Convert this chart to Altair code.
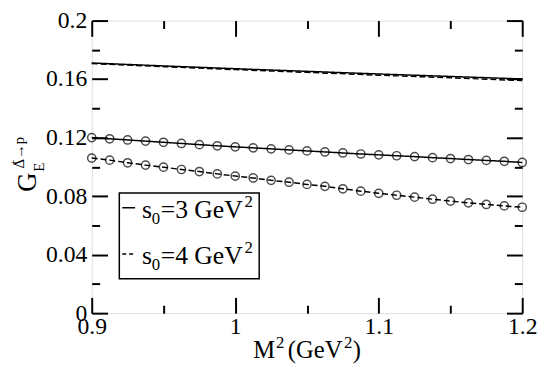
import altair as alt
import pandas as pd

# ---- data ----
m2_circ = [0.9, 0.9125, 0.925, 0.9375, 0.95, 0.9625, 0.975, 0.9875, 1.0, 1.0125,
           1.025, 1.0375, 1.05, 1.0625, 1.075, 1.0875, 1.1, 1.1125, 1.125, 1.1375,
           1.15, 1.1625, 1.175, 1.1875, 1.2]
circ_s3 = [0.1200, 0.1192, 0.1184, 0.1176, 0.1168, 0.1160, 0.1152, 0.1144, 0.1137, 0.1130,
           0.1123, 0.1116, 0.1109, 0.1102, 0.1095, 0.1088, 0.1082, 0.1076, 0.1070, 0.1063,
           0.1057, 0.1050, 0.1044, 0.1038, 0.1030]
circ_s4 = [0.1060, 0.1046, 0.1028, 0.1012, 0.0998, 0.0982, 0.0968, 0.0952, 0.0937, 0.0924,
           0.0908, 0.0895, 0.0880, 0.0867, 0.0850, 0.0834, 0.0819, 0.0806, 0.0793, 0.0779,
           0.0766, 0.0754, 0.0743, 0.0733, 0.0724]
m2_line = [0.9, 0.95, 1.0, 1.05, 1.1, 1.15, 1.2]
line_s3 = [0.1710, 0.1690, 0.1671, 0.1653, 0.1635, 0.1618, 0.1601]
line_s4 = [0.1706, 0.1685, 0.1665, 0.1646, 0.1627, 0.1609, 0.1590]

x_major = [0.9, 1.0, 1.1, 1.2]
x_minor = [0.95, 1.05, 1.15]
y_major = [0.0, 0.04, 0.08, 0.12, 0.16, 0.2]
y_minor = [0.02, 0.06, 0.10, 0.14, 0.18]
legend1_parts = ["s", "0", "=3 GeV", "2"]
legend2_parts = ["s", "0", "=4 GeV", "2"]
xtitle_parts = ["M", "2", "(GeV", "2", ")"]
ytitle_parts = ["G", "E", "\u0394\u2192p", "+"]

FONT = "Liberation Serif"
TOP = 10           # page y of plot top = 8 + TOP
LEFT = 85          # page x of plot left = 8 + LEFT
PLOT_BOTTOM = 315  # page y of plot bottom

circ_df = pd.concat([
    pd.DataFrame({"m2": m2_circ, "g": circ_s3, "s": "3"}),
    pd.DataFrame({"m2": m2_circ, "g": circ_s4, "s": "4"}),
])
line_df = pd.concat([
    pd.DataFrame({"m2": m2_line, "g": line_s3, "s": "3"}),
    pd.DataFrame({"m2": m2_line, "g": line_s4, "s": "4"}),
])

xs = alt.Scale(domain=[0.9, 1.2], nice=False, zero=False)
ys = alt.Scale(domain=[0.0, 0.2], nice=False, zero=False)
dash = alt.StrokeDash("s:N", scale=alt.Scale(domain=["3", "4"], range=[[1, 0], [6, 3]]), legend=None)

def X(axis=None):
    return alt.X("m2:Q", scale=xs, axis=axis)

def Y(axis=None):
    return alt.Y("g:Q", scale=ys, axis=axis)

def tick_axis(orient, values, size, labels=False, **kw):
    return alt.Axis(orient=orient, values=values, tickSize=size, offset=-size, domain=False,
                    grid=False, labels=labels, title=None, tickColor="black", tickWidth=2,
                    labelFlush=False, **kw)

lines_top = alt.Chart(line_df).mark_line(color="black", strokeWidth=1.5).encode(
    x=X(), y=Y(), strokeDash=dash, detail="s:N")
lines_circ = alt.Chart(circ_df).mark_line(color="black", strokeWidth=1.5).encode(
    x=X(), y=Y(), strokeDash=dash, detail="s:N")
points = alt.Chart(circ_df).mark_point(shape="circle", filled=False, color="black",
                                       size=70, strokeWidth=1.5).encode(x=X(), y=Y(), detail="s:N")

axis_src = alt.Chart(circ_df).mark_point(opacity=0)
lab = dict(labelFont=FONT, labelFontSize=24, labelColor="black", format="~g", labelOverlap=False)
ax_layers = [
    axis_src.encode(x=X(tick_axis("bottom", x_major, 16, labels=True, labelPadding=2, **lab)),
                    y=Y(tick_axis("left", y_major, 16, labels=True, labelPadding=5, **lab))),
    axis_src.encode(x=X(tick_axis("bottom", x_minor, 8)), y=Y()),
    axis_src.encode(x=X(tick_axis("top", x_major, 16)), y=Y()),
    axis_src.encode(x=X(tick_axis("top", x_minor, 8)), y=Y()),
    axis_src.encode(x=X(), y=Y(tick_axis("left", y_minor, 8))),
    axis_src.encode(x=X(), y=Y(tick_axis("right", y_major, 16))),
    axis_src.encode(x=X(), y=Y(tick_axis("right", y_minor, 8))),
]

def px(v):
    return alt.value(v - 8 - LEFT)

def py(v):
    return alt.value(v - 8 - TOP)

def txt(text, x, y, size, angle=0, align="left", baseline="alphabetic"):
    return alt.Chart(pd.DataFrame({"t": [text]})).mark_text(
        font=FONT, fontSize=size, angle=angle, align=align, baseline=baseline, color="black"
    ).encode(x=px(x), y=py(y), text="t:N")

one = pd.DataFrame({"k": [0]})
# legend box and samples (page coordinates)
leg_box = alt.Chart(one).mark_rect(fill="white", stroke="black", strokeWidth=1.5).encode(
    x=px(121), x2=px(263), y=py(193), y2=py(280))
leg_l1 = alt.Chart(one).mark_rule(color="black", strokeWidth=1.5).encode(
    x=px(124), x2=px(137), y=py(208))
leg_l2 = alt.Chart(one).mark_rule(color="black", strokeWidth=1.5, strokeDash=[4, 3]).encode(
    x=px(124), x2=px(137), y=py(255))

def legend_text(parts, base):
    return [txt(parts[0], 144, base, 26), txt(parts[1], 154, base + 6, 17),
            txt(parts[2], 163, base, 26), txt(parts[3], 248, base - 11, 17)]

leg_txt = legend_text(legend1_parts, 218) + legend_text(legend2_parts, 265)

# x title  M^2 (GeV^2)
xt_base = 361
xtitle = [txt(xtitle_parts[0], 257, xt_base, 25), txt(xtitle_parts[1], 280, xt_base - 11, 17),
          txt(xtitle_parts[2], 292, xt_base, 25), txt(xtitle_parts[3], 349, xt_base - 11, 17),
          txt(xtitle_parts[4], 358, xt_base, 25)]

# y title  G_E^{Δ+→p}
ytitle = [txt(ytitle_parts[0], 28, 182, 27, 270, "center", "middle"),
          txt(ytitle_parts[1], 40, 167, 15, 270, "center", "middle"),
          txt(ytitle_parts[2], 19, 152, 15, 270, "center", "middle"),
          txt(ytitle_parts[3], 14, 162, 11, 270, "center", "middle")]

chart = alt.layer(
    *ax_layers, lines_top, lines_circ, points, leg_box, leg_l1, leg_l2, *leg_txt, *xtitle, *ytitle
).resolve_axis(x="independent", y="independent").properties(
    width=437, height=PLOT_BOTTOM - 8 - TOP,
    autosize=alt.AutoSizeParams(type="none"),
    padding={"left": LEFT, "top": TOP, "right": 15, "bottom": 366 - (PLOT_BOTTOM - 8)},
).configure_view(stroke="black", strokeWidth=2).configure(background="white")

chart.save("out.html", embed_options={"renderer": "svg", "actions": False})
